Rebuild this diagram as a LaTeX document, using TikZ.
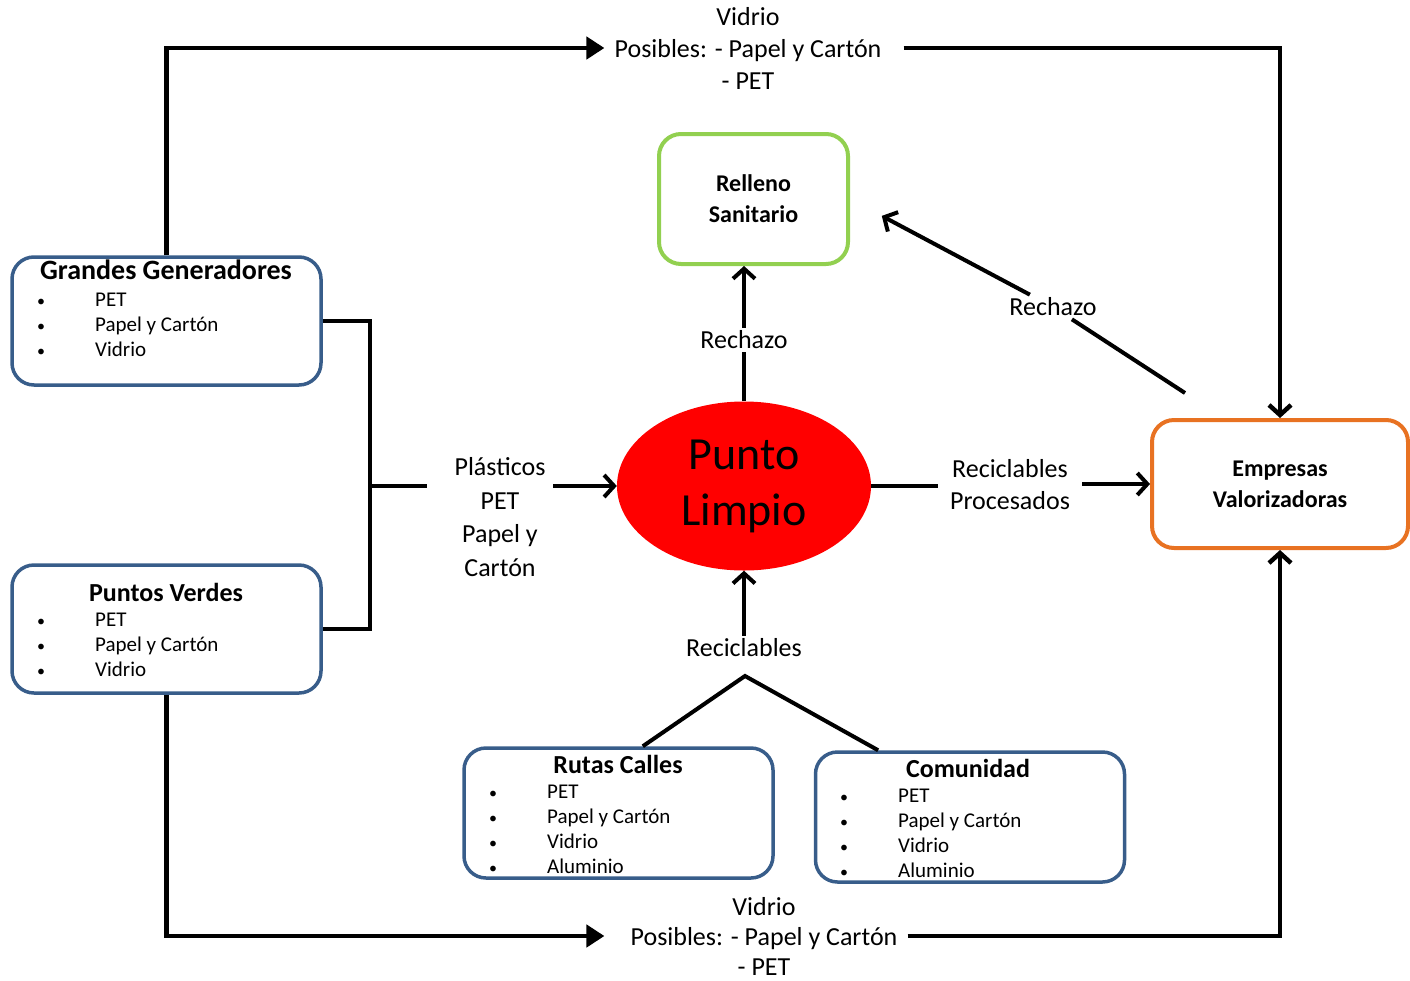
\documentclass[tikz,border=0pt]{standalone}
\usepackage{fontspec}
\setmainfont{Carlito}
\definecolor{boxblue}{RGB}{56, 93, 138}
\definecolor{landgreen}{RGB}{146, 208, 80}
\definecolor{valorange}{RGB}{232, 114, 34}
\definecolor{limpiored}{RGB}{255, 0, 0}
\usetikzlibrary{shapes.geometric, arrows.meta, positioning}
\newcommand{\wasteitem}[1]{\makebox[58pt][l]{\fontsize{16}{16}\selectfont\textbullet}#1}

\begin{document}
\begin{tikzpicture}[x=1pt, y=-1pt,
  srcbox/.style={draw=boxblue, line width=3.5pt, rounded corners=22pt, minimum width=309pt, minimum height=128pt, inner sep=0pt},
  destbox/.style={line width=4pt, rounded corners=22pt, minimum height=128pt, inner sep=0pt, align=center, font=\fontsize{24}{31}\selectfont\bfseries},
  boxtitle/.style={inner sep=2pt, font=\fontsize{26}{30}\selectfont\bfseries},
  wastelist/.style={anchor=west, inner sep=0pt, align=left, font=\fontsize{21}{25}\selectfont},
  flowlbl/.style={inner xsep=10pt, inner ysep=3pt, align=center, font=\fontsize{26}{32}\selectfont},
  flow/.style={line width=4pt, -{Straight Barb[length=10pt, width=22pt]}},
  longflow/.style={line width=4.5pt, -{Triangle[length=18pt, width=22pt]}},
  plain/.style={line width=4pt}]
  \useasboundingbox (0,0) rectangle (1410,980);

  % Sources on the left
  \node[srcbox] (gg) at (166.5, 321) {};
  \node[boxtitle, font=\fontsize{28}{30}\selectfont\bfseries] (ggTitle) at (166, 270) {Grandes Generadores};
  \node[wastelist] (ggList) at (37, 325) {\wasteitem{PET}\\\wasteitem{Papel y Cartón}\\\wasteitem{Vidrio}};

  \node[srcbox] (pv) at (166.5, 629) {};
  \node[boxtitle] (pvTitle) at (166, 592) {Puntos Verdes};
  \node[wastelist] (pvList) at (37, 645) {\wasteitem{PET}\\\wasteitem{Papel y Cartón}\\\wasteitem{Vidrio}};

  % Sources at the bottom
  \node[srcbox, minimum height=130pt] (rc) at (618.5, 813) {};
  \node[boxtitle] (rcTitle) at (618, 764) {Rutas Calles};
  \node[wastelist] (rcList) at (489, 829) {\wasteitem{PET}\\\wasteitem{Papel y Cartón}\\\wasteitem{Vidrio}\\\wasteitem{Aluminio}};

  \node[srcbox, minimum height=130pt] (com) at (970, 817) {};
  \node[boxtitle] (comTitle) at (968, 768) {Comunidad};
  \node[wastelist] (comList) at (840, 833) {\wasteitem{PET}\\\wasteitem{Papel y Cartón}\\\wasteitem{Vidrio}\\\wasteitem{Aluminio}};

  % Centre and destinations
  \node[ellipse, fill=limpiored, minimum width=254pt, minimum height=169pt, inner sep=0pt, align=center, font=\fontsize{46}{56}\selectfont] (pl) at (744, 486) {Punto\\Limpio};
  \node[destbox, draw=landgreen, minimum width=189pt, minimum height=130pt] (rs) at (753.5, 199) {Relleno\\Sanitario};
  \node[destbox, draw=valorange, minimum width=256pt] (val) at (1280, 484) {Empresas\\Valorizadoras};

  % Labels
  \node[flowlbl] (topLbl) at (748, 48) {Vidrio\\Posibles: - Papel y Cartón\\- PET};
  \node[flowlbl, font=\fontsize{26}{30}\selectfont] (botLbl) at (764, 936) {Vidrio\\Posibles: - Papel y Cartón\\- PET};
  \node[flowlbl, font=\fontsize{26}{33.5}\selectfont] (lblPlast) at (500, 517) {Plásticos\\PET\\Papel y\\Cartón};
  \node[flowlbl] (lblRech1) at (744, 340) {Rechazo};
  \node[flowlbl] (lblRech2) at (1053, 307) {Rechazo};
  \node[flowlbl, inner xsep=12pt] (lblProc) at (1010, 485) {Reciclables\\Procesados};
  \node[flowlbl] (lblRecic) at (744, 648) {Reciclables};

  \coordinate (brk) at (370, 486);
  \coordinate (plastIn) at (427, 486);
  \coordinate (plastOut) at (553, 486);
  \coordinate (peak) at (745, 676);
  \coordinate (rechStart) at (1185, 393);

  % Connectors
  \draw[longflow] (gg.north) |- (topLbl.west);
  \draw[plain, line width=4.5pt, -{Straight Barb[length=10pt, width=22pt]}, shorten <=12pt] (topLbl.east) -| (val.north);
  \draw[longflow, shorten >=16pt] (pv.south) |- (botLbl.west);
  \draw[plain, line width=4.5pt, -{Straight Barb[length=10pt, width=22pt]}] (botLbl.east) -| (val.south);

  \draw[plain] (gg.east) -| (brk) |- (pv.east);
  \draw[plain] (brk) -- (plastIn);
  \draw[flow] (plastOut) -- (pl.west);

  \draw[plain] (pl.north) -- (lblRech1.south);
  \draw[flow] (lblRech1.north) -- (lblRech1.north |- rs.south);

  \draw[plain] (pl.east) -- (lblProc.west |- pl.east);
  \draw[flow] (lblProc.east |- val.west) -- (val.west);

  \draw[plain] (rechStart) -- (lblRech2);
  \draw[flow, shorten >=36pt] (lblRech2) -- (rs.east);

  \draw[plain] (rc.70) -- (peak) -- (com.144);
  \draw[flow] (lblRecic.north) -- (pl.south);
\end{tikzpicture}
\end{document}
